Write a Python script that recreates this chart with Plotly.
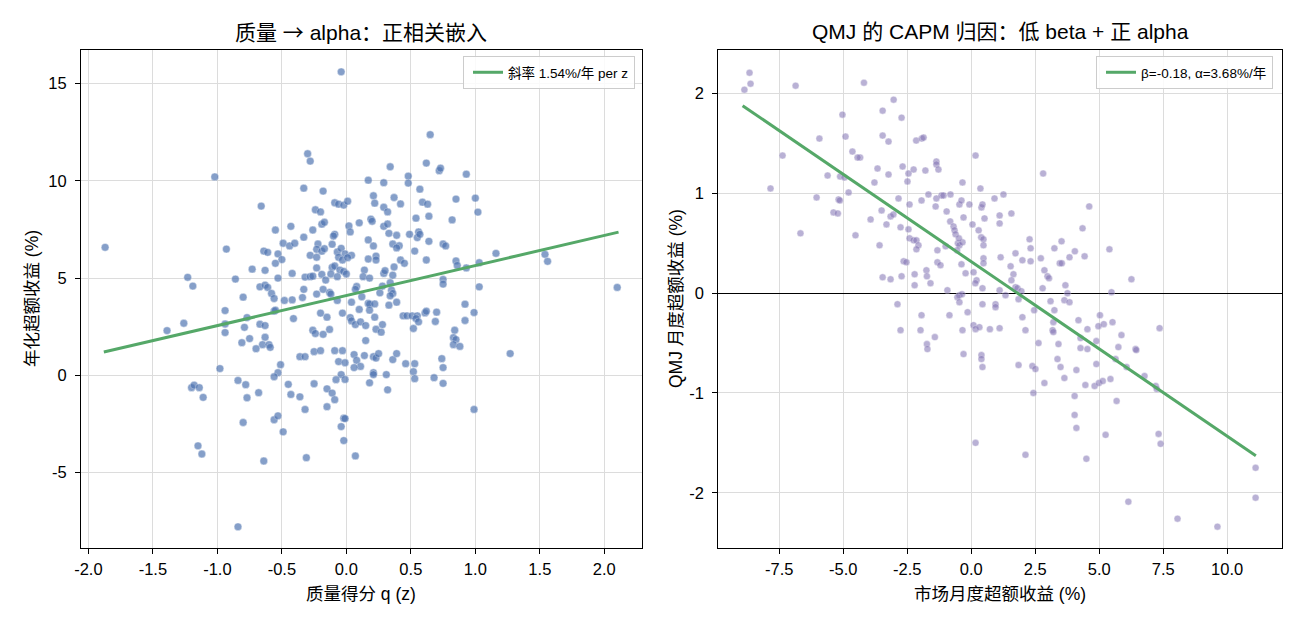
import plotly.graph_objects as go

# ---------------- Left panel data: quality score vs annualised excess return ----------------
q_score = (
    [-0.04, -1.02, -1.87, -1.23, -1.19, -1.26, -1.39, -0.98, -1.20, -1.18, -1.14, -1.11, -1.15, -1.12, -0.84]
    + [0.65, -0.30, -0.28, 0.34, 0.62, 0.72, 0.73, 0.93, 0.48, 0.48,
       0.17, 0.29, 0.57, -0.33, -0.18, -0.66, 0.21, 0.22, 0.37, 0.42,
       0.59, 0.63, 0.85, 1.00, -0.09, -0.06, -0.02, 0.01, -0.24, -0.20,
       0.29, 0.32, 1.02, -0.43, -0.55, -0.26, -0.19, -0.17, 0.10, 0.02,
       0.03, 0.19, 0.20, 0.29, 0.32, 0.54, 0.64, 0.82, -0.33, -0.49,
       -0.44, -0.40, -0.09, -0.10, -0.22, 0.33, 0.39, 0.49, 0.56, 0.55,
       0.57, 0.64, 0.17, 0.21, 0.36, 0.41, 0.39, 0.75, 0.77, -0.93,
       -0.64, -0.61, -0.53, -0.50, -0.55, -0.23, -0.19, -0.17, -0.28, -0.23,
       -0.11, -0.07, -0.04, -0.01, 0.04, -0.06, -0.03, 0.01, 0.17, 0.23,
       0.23, 0.42, 0.45, 0.53, 0.62, 0.37, 0.85, 0.86, 0.93, 1.03,
       -0.73, -0.63, -0.42, -0.53, -0.86, -0.23, -0.11, -0.09, -0.05, -0.02,
       -0.32, -0.28, -0.26, -0.19, -0.16, -0.12, -0.07, 0.00, 0.14, 0.13,
       0.18, 0.29, 0.30, 0.36, 0.75, 0.75, -0.67, -0.63, -0.61, -0.58,
       -0.56, -0.80, -0.33, -0.34, -0.23, -0.18, -0.13, -0.12, -0.07, 0.08,
       0.07, 0.12, 0.26, 0.28, 0.34, 0.35, 0.36, 0.34, 0.17, 0.18,
       0.22, 0.18, 0.33, 0.39, 0.04, -0.48, -0.42, -0.56, -0.55, -0.94,
       0.92, 0.99, 0.44, 0.47, 0.51, 0.55, 0.61, 0.62, 0.70, 0.54,
       -0.20, -0.15, -0.03, 0.03, 0.10, -0.41, -0.77]
    + [-0.94, -0.94, -0.79, -0.67, -0.63, -0.81, -0.75, -0.63, -0.65, -0.60,
       -0.59, -0.70, -0.26, -0.24, -0.18, -0.13, 0.04, 0.07, 0.11, 0.15,
       0.22, 0.23, 0.27, 0.28, 0.15, 0.56, 0.52, 0.69, 0.92, 0.84,
       0.83, 0.85, 0.83, 0.88, -0.36, -0.32, -0.25, -0.20, -0.09, -0.03,
       -0.06, -0.01, 0.06, 0.08, 0.11, 0.06, 0.14, 0.21, 0.23, 0.25,
       0.36, 0.39, 0.46, 0.53, 0.52, 0.53, 0.74, 0.75, 0.68, 0.75,
       0.21, 0.21, 0.31, 0.18, 0.32, -0.04, -0.08, -0.01, -0.25, -0.15,
       -0.11, -0.09, -0.15, -0.32, -0.02, -0.01, -0.04, -0.02, 0.07, -0.31,
       -0.64, -0.80, -0.56, -0.53, -0.49, -0.36, -0.43, -0.45, -0.51, -0.53,
       -0.56, -0.84, -0.78, -0.77, -0.68, 0.99]
    + [1.16, 1.54, 1.56, 1.03, 2.10, 1.27]
)
excess_ret = (
    [15.6, 10.2, 6.58, 5.04, 4.59, 2.68, 2.30, 0.35, -0.63, -0.50, -0.63, -1.13, -3.62, -4.04, -7.78]
    + [12.37, 11.39, 11.01, 10.72, 10.91, 10.52, 10.65, 10.34, 10.24, 9.88,
       10.03, 9.90, 9.57, 9.62, 9.47, 8.70, 9.23, 8.85, 9.14, 8.81,
       8.90, 8.80, 9.06, 9.11, 8.87, 8.80, 8.75, 8.95, 8.51, 8.40,
       8.64, 8.40, 8.39, 7.66, 7.47, 7.47, 7.77, 7.87, 7.84, 7.68,
       7.37, 8.03, 7.92, 7.66, 7.78, 8.08, 8.18, 7.99, 7.10, 6.79,
       6.65, 6.79, 7.25, 7.16, 6.75, 7.30, 7.20, 7.25, 7.37, 7.08,
       7.25, 6.89, 6.96, 6.65, 6.75, 6.66, 6.55, 6.75, 6.65, 6.49,
       6.39, 6.32, 6.24, 5.95, 5.76, 6.48, 6.38, 6.51, 6.17, 6.07,
       6.74, 6.34, 6.53, 6.24, 6.17, 6.07, 5.93, 6.05, 5.98, 6.13,
       5.93, 5.93, 5.76, 6.39, 5.93, 5.57, 5.88, 5.65, 5.52, 4.55,
       5.46, 5.40, 5.24, 5.00, 4.95, 5.52, 5.55, 5.62, 5.41, 5.34,
       5.05, 5.07, 5.10, 5.19, 4.90, 5.21, 5.07, 5.21, 5.41, 5.07,
       5.00, 5.24, 5.38, 5.15, 4.93, 4.69, 4.55, 4.64, 4.52, 4.21,
       3.95, 4.02, 4.42, 4.00, 4.18, 4.42, 4.26, 4.18, 3.85, 4.57,
       4.42, 4.04, 4.24, 4.59, 4.76, 4.38, 4.21, 4.09, 3.70, 3.66,
       3.67, 3.35, 3.61, 3.76, 3.76, 3.85, 3.88, 3.30, 3.35, 3.33,
       3.66, 3.23, 3.06, 3.06, 3.06, 3.06, 3.21, 3.30, 3.25, 2.92,
       3.20, 2.99, 3.20, 2.97, 3.39, 2.92, 2.97]
    + [2.20, 2.64, 2.47, 2.63, 2.56, 1.68, 1.89, 1.96, 1.58, 1.58,
       1.44, 1.37, 2.32, 2.15, 2.11, 2.36, 2.80, 2.61, 2.75, 2.56,
       2.99, 2.37, 2.22, 2.61, 1.79, 2.75, 2.41, 2.77, 2.82, 2.32,
       1.94, 1.84, 1.58, 1.49, 0.96, 0.96, 1.22, 1.27, 1.27, 1.27,
       0.71, 0.65, 1.07, 0.77, 0.46, 0.40, 1.02, 0.96, 0.89, 1.12,
       0.81, 1.12, 0.60, 0.60, 0.19, -0.17, 0.86, 0.40, -0.12, -0.41,
       0.14, 0.04, 0.04, -0.38, -0.74, 0.04, -0.22, -0.21, -0.43, -0.69,
       -0.91, -1.25, -1.61, -1.75, -2.20, -2.22, -2.63, -3.35, -4.14, -4.23,
       -4.40, -2.42, -2.28, -2.08, -2.90, -1.10, -0.98, -0.46, 0.55, 0.14,
       -0.07, -0.26, -0.48, -1.15, -0.89, -1.75]
    + [6.27, 6.22, 5.86, 5.79, 4.52, 1.12]
)
fit_q = [-1.88, 2.11]
fit_ret = [1.20, 7.36]
left_label = "斜率 1.54%/年 per z"

# ---------------- Right panel data: market excess vs QMJ excess (monthly %) ----------------
mkt_ret = (
    [-3.46, -2.72, -3.46, -3.23, -2.15, -1.93, -1.86, 0.17, -4.34, -3.66,
     -3.23, -2.68, -2.45, -2.25, -2.49, -1.79, -1.36, -1.36, -1.28, 2.81,
     -3.78, -0.34, 0.36, -2.84, -2.41, -1.94, -1.67, -1.36, -1.16, -1.08,
     -0.81, -1.39, -0.96, -0.46, -0.38, -0.07, 0.40, 0.44, 0.91, 1.26,
     4.61, -3.93, -3.50, -3.31, -3.15, -3.04, -2.76, -2.45, -0.82, -0.69,
     -0.65, -0.61, -0.30, 0.52, 0.05, 0.29, 0.39, 0.48, 0.48, 1.11,
     1.11, 1.57, 4.35, -2.41, -2.25, -2.14, -2.06, -2.14, -3.58, -1.32,
     -1.00, -0.52, -0.46, -0.34, -0.48, -0.55, 2.28, 2.32, 3.25, 3.53,
     5.40, -2.64, -2.53, -1.32, -1.20, -0.38, -0.22, 0.48, 0.48, 1.15,
     1.73, 2.00, 2.32, 2.72, 3.46, 3.54, 3.84, 4.05, 4.43, 1.54,
     1.65, 2.86, 2.98, 3.04, -3.46, -3.15, -2.72, -2.21, -2.21, -1.75,
     -1.73, -1.59, -0.93, 0.09, 0.21, 0.16, 0.44, 1.11, 1.57, 1.73,
     1.81, 1.96, 2.79, 3.68, 3.76, 3.64, 3.84, 5.48, 6.26, -2.88,
     -0.46, -0.36, -0.54, -0.46, 0.44, 0.95, 0.95, 1.34, 1.85, 3.10,
     3.25, 2.46, -1.94, -0.85, -0.14, 2.00, 3.21, 4.19, 5.03, 4.97,
     5.18, 5.52, -2.76, -1.98, -0.34, 0.09, 0.17, 0.32, 0.73, 1.11,
     2.12, 3.18, 3.21, 4.54, -1.42, -1.73, -1.71, 2.63, 3.41, 4.27,
     4.27, 4.54, 4.89, 5.87, 5.75, 6.42, -0.30, 0.40, 0.40, 0.44,
     1.85, 2.39, 2.51, 3.37, 3.49, 4.11, 4.89, 5.64, 6.07, 3.64,
     2.86, 4.46, 4.82, 4.99, 5.14, 5.44, 2.43, 4.04, 5.68, 4.04,
     4.11, 5.25, 0.17, 2.12, 4.50]
    + [-8.66, -8.62, -8.86, -6.86, -4.19, -3.03, -5.03, -5.93, -4.91, -7.37,
       -4.64, -4.44, -7.84, -5.61, -5.12, -4.95, -4.79, -6.04, -5.18, -5.13,
       -5.38, -5.21, -6.67, -4.52, 7.36, 6.77, 7.21, 7.25, 7.32, 7.40,
       11.11, 11.11, 6.14, 8.06, 9.62, 6.45]
)
qmj_ret = (
    [1.83, 1.76, 1.58, 1.52, 1.53, 1.55, 1.56, 1.38, 1.36, 1.25,
     1.19, 1.27, 1.20, 1.24, 1.12, 1.23, 1.32, 1.29, 1.24, 1.20,
     1.11, 1.11, 1.05, 0.95, 0.89, 0.93, 0.99, 0.95, 0.98, 0.98,
     0.99, 0.87, 0.82, 0.89, 0.93, 0.89, 0.86, 0.89, 0.95, 0.99,
     0.87, 0.74, 0.83, 0.69, 0.77, 0.79, 0.66, 0.64, 0.72, 0.67,
     0.63, 0.59, 0.76, 0.75, 0.69, 0.63, 0.56, 0.54, 0.48, 0.78,
     0.70, 0.80, 0.65, 0.55, 0.53, 0.53, 0.48, 0.44, 0.48, 0.43,
     0.47, 0.50, 0.48, 0.51, 0.55, 0.43, 0.54, 0.45, 0.45, 0.52,
     0.44, 0.32, 0.31, 0.31, 0.28, 0.29, 0.20, 0.35, 0.30, 0.36,
     0.40, 0.33, 0.32, 0.35, 0.30, 0.30, 0.36, 0.42, 0.37, 0.27,
     0.19, 0.23, 0.17, 0.15, 0.16, 0.14, 0.17, 0.19, 0.08, 0.23,
     0.17, 0.10, 0.03, 0.21, 0.13, 0.10, 0.05, 0.03, 0.13, 0.06,
     0.05, 0.02, 0.05, 0.08, 0.00, -0.07, -0.09, 0.01, 0.14, -0.11,
     -0.02, -0.01, -0.04, -0.09, -0.11, -0.11, -0.14, -0.02, -0.06, -0.08,
     -0.17, -0.17, -0.22, -0.22, -0.19, -0.24, -0.29, -0.27, -0.22, -0.33,
     -0.31, -0.29, -0.37, -0.37, -0.37, -0.32, -0.36, -0.34, -0.36, -0.35,
     -0.37, -0.37, -0.39, -0.36, -0.44, -0.51, -0.56, -0.50, -0.51, -0.45,
     -0.55, -0.56, -0.48, -0.42, -0.54, -0.56, -0.61, -0.62, -0.66, -0.74,
     -0.72, -0.73, -0.76, -0.66, -0.74, -0.77, -0.71, -0.66, -0.74, -0.85,
     -0.90, -0.92, -0.93, -0.90, -0.88, -0.86, -1.00, -1.03, -1.08, -1.22,
     -1.35, -1.42, -1.50, -1.62, -1.66]
    + [2.21, 2.10, 2.04, 2.08, 2.11, 1.94, 1.79, 1.55, 1.57, 1.38,
       1.42, 1.36, 1.05, 1.18, 1.17, 1.16, 1.01, 0.96, 0.94, 0.93,
       0.81, 0.80, 0.60, 0.58, -0.35, -0.83, -0.93, -0.96, -1.41, -1.51,
       -1.75, -2.05, -2.09, -2.26, -2.34, -0.57]
)
fit_mkt = [-8.93, 11.12]
fit_qmj = [1.88, -1.63]
right_label = "β=-0.18, α=3.68%/年"

# ---------------- Ticks and text ----------------
left_xticks = [-2.0, -1.5, -1.0, -0.5, 0.0, 0.5, 1.0, 1.5, 2.0]
left_xtext = ["-2.0", "-1.5", "-1.0", "-0.5", "0.0", "0.5", "1.0", "1.5", "2.0"]
left_yticks = [-5, 0, 5, 10, 15]
left_ytext = ["-5", "0", "5", "10", "15"]
right_xticks = [-7.5, -5.0, -2.5, 0.0, 2.5, 5.0, 7.5, 10.0]
right_xtext = ["-7.5", "-5.0", "-2.5", "0.0", "2.5", "5.0", "7.5", "10.0"]
right_yticks = [-2, -1, 0, 1, 2]
right_ytext = ["-2", "-1", "0", "1", "2"]

ARROW = "<span style=\"font-family:'Noto Sans CJK SC'\">→</span>"
left_title = "质量 " + ARROW + " alpha：正相关嵌入"
right_title = "QMJ 的 CAPM 归因：低 beta + 正 alpha"
left_xlabel = "质量得分 q (z)"
left_ylabel = "年化超额收益 (%)"
right_xlabel = "市场月度超额收益 (%)"
right_ylabel = "QMJ 月度超额收益 (%)"

assert len(q_score) == len(excess_ret)
assert len(mkt_ret) == len(qmj_ret)

FONT = "Liberation Sans, Arial, Noto Sans CJK SC, sans-serif"
BLUE = "#4C72B0"
GREEN = "#55A868"
PURPLE = "#8172B3"
GRID = "#dcdcdc"

fig = go.Figure()
fig.add_trace(go.Scatter(
    x=q_score, y=excess_ret, mode="markers", showlegend=False, hoverinfo="skip",
    marker=dict(size=7.8, color=BLUE, opacity=0.68, line=dict(color="rgba(255,255,255,0.6)", width=0.7)),
    xaxis="x", yaxis="y"))
fig.add_trace(go.Scatter(
    x=fit_q, y=fit_ret, mode="lines", name=left_label, legend="legend",
    line=dict(color=GREEN, width=3), xaxis="x", yaxis="y"))
fig.add_trace(go.Scatter(
    x=mkt_ret, y=qmj_ret, mode="markers", showlegend=False, hoverinfo="skip",
    marker=dict(size=7, color=PURPLE, opacity=0.55, line=dict(color="rgba(255,255,255,0.6)", width=0.7)),
    xaxis="x2", yaxis="y2"))
fig.add_trace(go.Scatter(
    x=fit_mkt, y=fit_qmj, mode="lines", name=right_label, legend="legend2",
    line=dict(color=GREEN, width=3), xaxis="x2", yaxis="y2"))

YDOM = [76 / 624, 574 / 624]
axis_common = dict(
    showgrid=True, gridcolor=GRID, gridwidth=0.8,
    ticks="outside", ticklen=5, tickwidth=1, tickcolor="black",
    showline=True, linecolor="black", linewidth=1, mirror=True,
    zeroline=False, tickfont=dict(size=16.5, color="black", family=FONT),
    tickmode="array", automargin=False, fixedrange=True,
)

legend_common = dict(
    xanchor="right", yanchor="top", y=1 - 56 / 624, indentation=4,
    bgcolor="rgba(255,255,255,0.85)", bordercolor="#cccccc", borderwidth=1,
    font=dict(size=13.5, family=FONT),
)

fig.update_layout(
    width=1300, height=624,
    margin=dict(l=0, r=0, t=0, b=0),
    paper_bgcolor="white", plot_bgcolor="white",
    font=dict(family=FONT, color="black"),
    xaxis=dict(axis_common, domain=[81 / 1300, 642 / 1300], range=[-2.057, 2.292],
               tickvals=left_xticks, ticktext=left_xtext, anchor="y", ticklabelstandoff=1),
    yaxis=dict(axis_common, domain=YDOM, range=[-8.87, 16.72],
               tickvals=left_yticks, ticktext=left_ytext, anchor="x", ticklabelstandoff=5),
    xaxis2=dict(axis_common, domain=[718.3 / 1300, 1281.7 / 1300], range=[-9.88, 12.13],
                tickvals=right_xticks, ticktext=right_xtext, anchor="y2", ticklabelstandoff=1),
    yaxis2=dict(axis_common, domain=YDOM, range=[-2.554, 2.438],
                tickvals=right_yticks, ticktext=right_ytext, anchor="x2", ticklabelstandoff=5,
                zeroline=True, zerolinecolor="black", zerolinewidth=1),
    legend=dict(legend_common, x=635 / 1300),
    legend2=dict(legend_common, x=1273 / 1300),
)

ann = []
ann.append(dict(text=left_title, x=361.5 / 1300, y=1 - 31 / 624, xref="paper", yref="paper",
                showarrow=False, xanchor="center", yanchor="middle", font=dict(size=21)))
ann.append(dict(text=right_title, x=1000 / 1300, y=1 - 31 / 624, xref="paper", yref="paper",
                showarrow=False, xanchor="center", yanchor="middle", font=dict(size=21)))
ann.append(dict(text=left_xlabel, x=361.5 / 1300, y=1 - 594 / 624, xref="paper", yref="paper",
                showarrow=False, xanchor="center", yanchor="middle", font=dict(size=17.5)))
ann.append(dict(text=right_xlabel, x=1000 / 1300, y=1 - 594 / 624, xref="paper", yref="paper",
                showarrow=False, xanchor="center", yanchor="middle", font=dict(size=17.5)))
ann.append(dict(text=left_ylabel, x=32 / 1300, y=1 - 299 / 624, xref="paper", yref="paper",
                showarrow=False, xanchor="center", yanchor="middle", textangle=-90, font=dict(size=17.5)))
ann.append(dict(text=right_ylabel, x=676 / 1300, y=1 - 299 / 624, xref="paper", yref="paper",
                showarrow=False, xanchor="center", yanchor="middle", textangle=-90, font=dict(size=17.5)))
fig.update_layout(annotations=ann)

fig.write_html("out.html")
